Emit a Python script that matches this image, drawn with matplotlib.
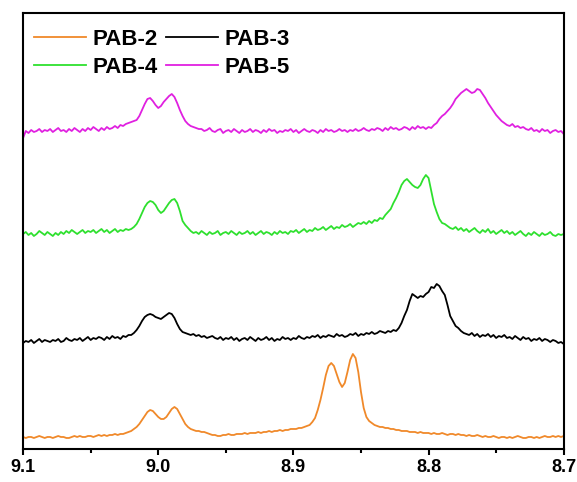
import numpy as np
import matplotlib.pyplot as plt
from matplotlib.ticker import MultipleLocator, FormatStrFormatter

# chemical shift grid (ppm), 9.10 -> 8.70 in 0.002 steps
ppm = np.linspace(9.10, 8.70, 201)

# intensities above each trace's own baseline
pab2 = [1, 0, 1, 1, 0, 1, 2, 1, 0, 1, 1, 0, 1, 2, 1, 1, 0, 0, 1, 2,
        1, 2, 1, 1, 2, 2, 1, 2, 3, 2, 3, 2, 3, 3, 4, 3, 4, 4, 5, 6,
        7, 9, 11, 14, 18, 22, 26, 28, 27, 24, 21, 19, 19, 21, 25, 29, 31, 29, 24, 19,
        14, 11, 9, 8, 7, 7, 6, 6, 5, 4, 3, 3, 2, 2, 3, 3, 4, 3, 3, 4,
        4, 4, 5, 4, 5, 5, 5, 6, 5, 6, 6, 7, 6, 7, 7, 8, 7, 8, 8, 9,
        9, 9, 10, 10, 11, 12, 13, 16, 20, 28, 38, 50, 63, 72, 75, 72, 64, 56, 51, 55,
        66, 78, 84, 80, 66, 46, 30, 21, 17, 15, 13, 12, 11, 11, 10, 10, 9, 9, 8, 8,
        7, 7, 7, 6, 6, 6, 5, 6, 5, 5, 5, 4, 5, 4, 4, 5, 4, 3, 4, 4,
        3, 4, 3, 3, 2, 3, 2, 2, 3, 2, 1, 2, 1, 1, 2, 1, 0, 1, 1, 0,
        1, 0, 1, 2, 1, 0, 0, 1, 1, 0, 1, 0, 1, 2, 1, 1, 2, 1, 2, 1, 2]

pab3 = [0, 2, 1, 3, 0, 2, 4, 1, 3, 2, 1, 3, 2, 4, 1, 2, 5, 3, 2, 4,
        3, 5, 2, 4, 6, 3, 5, 4, 6, 5, 3, 6, 4, 7, 5, 6, 4, 7, 6, 8,
        8, 10, 13, 17, 22, 26, 28, 29, 28, 26, 25, 24, 26, 28, 30, 29, 25, 19, 14, 11,
        10, 9, 8, 9, 7, 8, 6, 7, 5, 6, 7, 5, 4, 6, 3, 5, 4, 6, 3, 5,
        2, 4, 5, 3, 6, 4, 2, 5, 3, 4, 6, 3, 5, 2, 4, 3, 6, 4, 5, 3,
        5, 4, 7, 5, 4, 6, 5, 7, 6, 8, 5, 7, 6, 8, 7, 6, 9, 7, 8, 6,
        7, 9, 8, 10, 7, 9, 8, 10, 9, 11, 9, 10, 12, 11, 10, 12, 11, 13, 12, 15,
        20, 27, 33, 42, 49, 47, 45, 47, 46, 49, 51, 56, 55, 59, 57, 52, 48, 38, 27, 22,
        17, 15, 12, 10, 9, 8, 10, 7, 9, 6, 8, 7, 9, 6, 8, 5, 7, 6, 8, 5,
        6, 4, 7, 5, 3, 6, 4, 5, 2, 4, 3, 5, 2, 4, 3, 1, 3, 2, 0, 1, -1]

pab4 = [2, 4, 1, 3, 0, 2, 5, 3, 1, 4, 2, 0, 3, 1, 4, 2, 5, 3, 6, 4,
        2, 4, 6, 3, 5, 4, 6, 3, 5, 7, 4, 6, 3, 5, 7, 4, 6, 5, 7, 6,
        7, 9, 12, 17, 23, 29, 33, 35, 34, 31, 26, 23, 25, 29, 33, 36, 37, 33, 25, 15,
        11, 8, 5, 3, 4, 2, 5, 3, 1, 4, 2, 3, 5, 1, 3, 4, 2, 5, 3, 1,
        4, 2, 3, 5, 2, 4, 1, 3, 5, 2, 4, 3, 1, 4, 2, 5, 3, 4, 2, 5,
        4, 6, 3, 5, 7, 4, 6, 5, 8, 6, 7, 9, 6, 8, 10, 7, 9, 8, 11, 9,
        10, 12, 9, 11, 13, 12, 14, 12, 15, 13, 16, 15, 18, 17, 21, 24, 27, 33, 38, 44,
        51, 55, 57, 54, 51, 49, 48, 51, 57, 61, 58, 45, 32, 24, 17, 13, 12, 10, 8, 7,
        9, 6, 8, 5, 7, 4, 6, 8, 5, 3, 6, 4, 7, 3, 5, 2, 4, 6, 3, 5,
        2, 4, 1, 3, 5, 2, 0, 3, 1, 4, 2, 0, 3, 1, 2, 4, 1, 0, 2, 1, 2]

pab5 = [-5, 2, 0, 3, 1, 2, 4, 1, 3, 2, 4, 1, 3, 5, 2, 3, 1, 4, 2, 5,
        3, 1, 4, 2, 5, 3, 6, 4, 2, 5, 3, 6, 4, 5, 7, 5, 8, 7, 9, 10,
        11, 12, 13, 17, 23, 29, 34, 35, 32, 28, 25, 27, 31, 34, 37, 39, 36, 30, 23, 17,
        12, 9, 7, 6, 5, 4, 4, 2, 3, 5, 2, 1, 3, 4, 0, 2, 3, 1, 4, 2,
        0, 3, 1, 2, 4, 1, 3, 2, 0, 3, 1, 4, 2, 3, 0, 2, 1, 3, 2, 4,
        1, 3, 0, 2, 4, 2, 1, 3, 2, 0, 3, 1, 4, 2, 3, 1, 2, 4, 2, 3,
        1, 3, 2, 4, 2, 3, 5, 3, 2, 4, 3, 5, 4, 2, 5, 3, 6, 4, 5, 3,
        4, 6, 5, 3, 6, 4, 7, 5, 6, 4, 6, 5, 8, 10, 14, 17, 19, 22, 25, 29,
        34, 37, 40, 42, 44, 42, 40, 41, 44, 43, 39, 35, 30, 26, 22, 18, 15, 12, 10, 8,
        7, 9, 6, 7, 5, 6, 4, 3, 5, 2, 3, 1, 4, 2, 3, 0, 2, 3, 1, 2, -1]

labels = ['PAB-2', 'PAB-3', 'PAB-4', 'PAB-5']
colors = ['#F0892A', 'black', '#2EE02E', '#E020E0']
offsets = [11, 106, 213, 316]

fig = plt.figure(figsize=(5.77, 4.82), dpi=100)
ax = fig.add_axes([0.040, 0.0685, 0.937, 0.9045])

lines = []
for y, lab, c, off in zip([pab2, pab3, pab4, pab5], labels, colors, offsets):
    ln, = ax.plot(ppm, np.array(y) + off, color=c, lw=1.3, label=lab)
    lines.append(ln)

ax.set_xlim(9.1, 8.7)
ax.set_ylim(0, 436)
ax.set_yticks([])
ax.xaxis.set_major_locator(MultipleLocator(0.1))
ax.xaxis.set_minor_locator(MultipleLocator(0.05))
ax.xaxis.set_major_formatter(FormatStrFormatter('%.1f'))
ax.tick_params(axis='x', which='major', direction='out', length=4.5, width=1.5, pad=3)
ax.tick_params(axis='x', which='minor', direction='out', length=3, width=1.5)
for lbl in ax.get_xticklabels():
    lbl.set_fontfamily('Liberation Sans')
    lbl.set_fontweight('bold')
    lbl.set_fontsize(13)
for s in ax.spines.values():
    s.set_linewidth(1.5)

# legend fills row by row: PAB-2, PAB-3 / PAB-4, PAB-5
order = [0, 2, 1, 3]
ax.legend([lines[k] for k in order], [labels[k] for k in order],
          loc='upper left', bbox_to_anchor=(0.02, 0.963), ncol=2, frameon=False,
          prop={'family': 'Liberation Sans', 'weight': 'bold', 'size': 16},
          handlelength=2.35, handletextpad=0.3, columnspacing=0.35,
          labelspacing=0.3, borderaxespad=0, borderpad=0)

plt.savefig('out.png', dpi=100)
